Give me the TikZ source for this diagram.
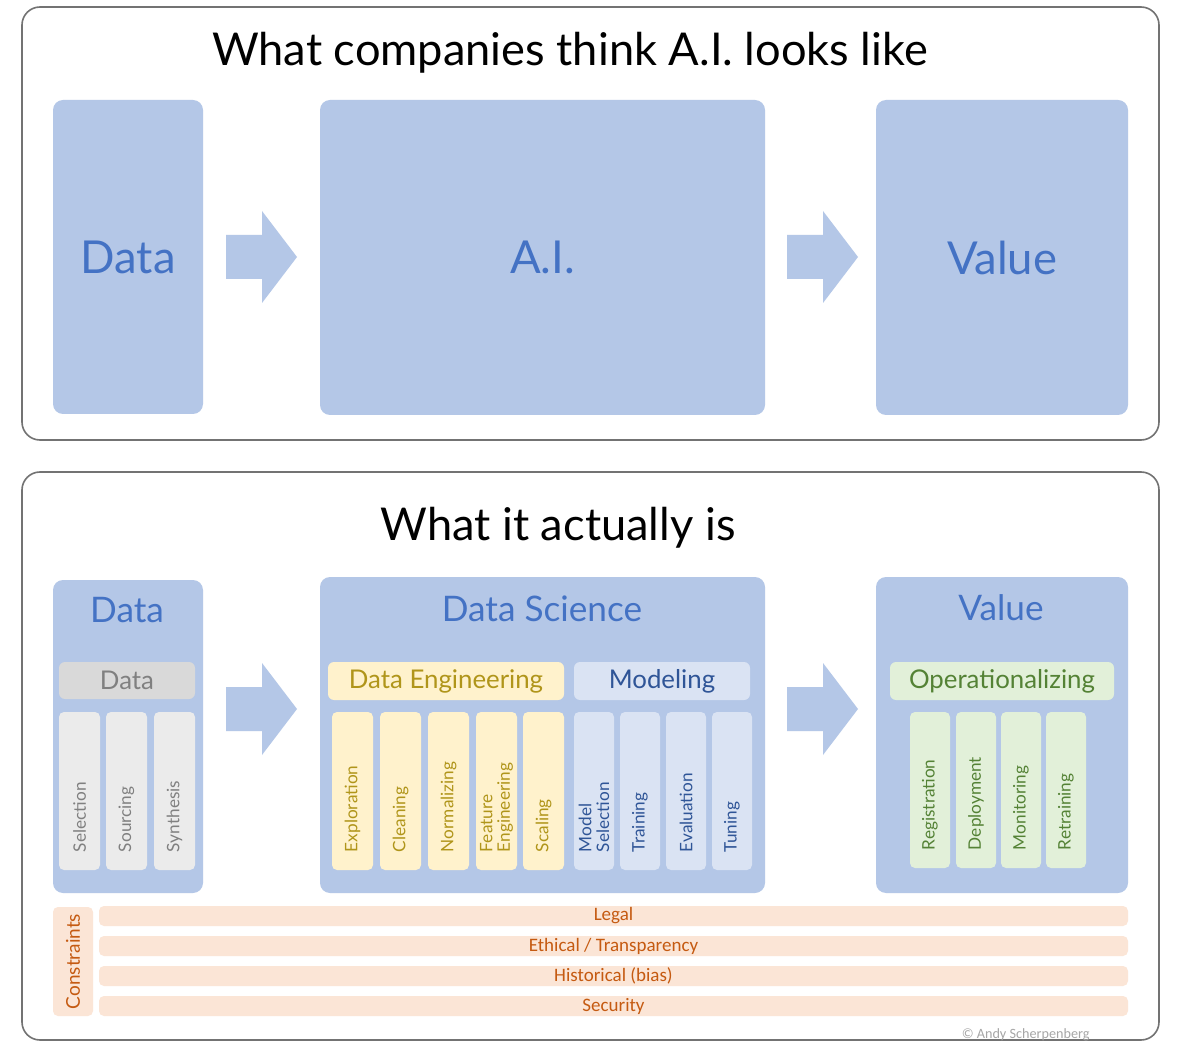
\documentclass[tikz,border=0pt]{standalone}
\usepackage{fontspec}
\setmainfont{Lato}
\newfontfamily\carl{Carlito}
\usetikzlibrary{fit}
\definecolor{boxblue}{HTML}{B4C7E7}
\definecolor{titleblue}{HTML}{4472C4}
\definecolor{hgray}{HTML}{D9D9D9}
\definecolor{cgray}{HTML}{EBEBEB}
\definecolor{tgray}{HTML}{808080}
\definecolor{yel}{HTML}{FFF2CC}
\definecolor{tyel}{HTML}{B0951A}
\definecolor{lblue}{HTML}{DAE3F3}
\definecolor{tdblue}{HTML}{2F5597}
\definecolor{lgreen}{HTML}{E2F0D9}
\definecolor{tgreen}{HTML}{548235}
\definecolor{peach}{HTML}{FBE5D6}
\definecolor{tpeach}{HTML}{C55A11}
\tikzset{
  panel/.style={draw=black!55, line width=0.8pt, rounded corners=9pt, inner sep=0pt},
  bigbox/.style={fill=boxblue, rounded corners=5pt, inner sep=0pt},
  hdr/.style={rounded corners=3pt, inner sep=0pt},
  colbox/.style={rounded corners=2.5pt, inner sep=0pt},
  maintitle/.style={font=\fontsize{22.6}{27}\selectfont, text=black},
  bigtxt/.style={font=\fontsize{22.7}{27}\selectfont, text=titleblue},
  subtitle/.style={font=\fontsize{17.6}{21}\selectfont, text=titleblue},
  hdrtxt/.style={font=\fontsize{12.9}{15}\selectfont},
  coltxt/.style={font=\fontsize{8.6}{8.8}\selectfont, rotate=90, anchor=west, align=left, inner sep=0pt},
  contxt/.style={font=\carl\fontsize{9.5}{11}\selectfont, text=tpeach, inner sep=0pt},
}
\newcommand\blockarrow[2]{\fill[boxblue] (#1,#2-22) -- ++(36,0) -- ++(0,-24) -- (#1+71,#2) -- (#1+36,#2+46) -- ++(0,-24) -- (#1,#2+22) -- cycle;}
\begin{document}
\begin{tikzpicture}[x=0.5pt,y=-0.5pt]
\useasboundingbox[fill=white] (0,0) rectangle (1179,1043);
% ---------- top panel ----------
\node[panel, fit={(22,7)(1159,440)}] (top) {};
\node[maintitle] (t1) at (570,53) {What companies think A.I. looks like};
\node[bigbox, fit={(53,100)(203,414)}] (tdata) {};
\node[bigtxt] (tdatat) at (tdata.center) {Data};
\node[bigbox, fit={(320,100)(765,415)}] (tai) {};
\node[bigtxt] (taitxt) at (tai.center) {A.I.};
\node[bigbox, fit={(876,100)(1128,415)}] (tval) {};
\node[bigtxt] (tvalt) at (tval.center) {Value};
\blockarrow{226}{257}
\blockarrow{787}{257}
% ---------- bottom panel ----------
\node[panel, fit={(22,472)(1159,1040)}] (bot) {};
\node[maintitle] (t2) at (558,528) {What it actually is};
% Data
\node[bigbox, fit={(53,580)(203,893)}] (bdata) {};
\node[subtitle] (bdatat) at (127,610) {Data};
\node[hdr, fill=hgray, fit={(59,662)(195,699)}] (hdata) {};
\node[hdrtxt, text=tgray] at (hdata.center) {Data};
\foreach \x/\t [count=\i] in {59/Selection,106/Sourcing,154/Synthesis}{
  \node[colbox, fill=cgray, fit={(\x,712)(\x+41,870)}] (dc\i) {};
  \path (dc\i.south) ++(0,-18) node[coltxt, text=tgray] {\t};
}
\blockarrow{226}{709}
% Data Science
\node[bigbox, fit={(320,577)(765,893)}] (bds) {};
\node[subtitle] (bdst) at (542,609) {Data Science};
\node[hdr, fill=yel, fit={(328,662)(564,700)}] (hde) {};
\node[hdrtxt, text=tyel] at (hde.center) {Data Engineering};
\node[hdr, fill=lblue, fit={(574,662)(750,700)}] (hmod) {};
\node[hdrtxt, text=tdblue] at (hmod.center) {Modeling};
\foreach \x/\t [count=\i] in {332/Exploration,380/Cleaning,428/Normalizing,476/{Feature\\Engineering},523/Scaling}{
  \node[colbox, fill=yel, fit={(\x,712)(\x+41,870)}] (de\i) {};
  \path (de\i.south) ++(0,-18) node[coltxt, text=tyel] {\t};
}
\foreach \x/\t [count=\i] in {574/{Model\\Selection},620/Training,666/Evaluation,712/Tuning}{
  \node[colbox, fill=lblue, fit={(\x,712)(\x+40,870)}] (mo\i) {};
  \path (mo\i.south) ++(0,-18) node[coltxt, text=tdblue] {\t};
}
\blockarrow{787}{709}
% Value
\node[bigbox, fit={(876,577)(1128,893)}] (bval) {};
\node[subtitle] (bvalt) at (1001,608) {Value};
\node[hdr, fill=lgreen, fit={(890,662)(1114,700)}] (hop) {};
\node[hdrtxt, text=tgreen] at (hop.center) {Operationalizing};
\foreach \x/\t [count=\i] in {910/Registration,956/Deployment,1001/Monitoring,1046/Retraining}{
  \node[colbox, fill=lgreen, fit={(\x,712)(\x+40,868)}] (op\i) {};
  \path (op\i.south) ++(0,-18) node[coltxt, text=tgreen] {\t};
}
% Constraints
\node[colbox, fill=peach, fit={(53,907)(93,1016)}] (cons) {};
\node[font=\fontsize{9.5}{11}\selectfont, text=tpeach, rotate=90] at (cons.center) {Constraints};
\foreach \y/\t [count=\i] in {906/{Legal},936/{Ethical / Transparency},966/{Historical (bias)},996/{Security}}{
  \node[colbox, fill=peach, fit={(99,\y)(1128,\y+20)}] (row\i) {};
  \node[contxt] at (row\i.center) {\t};
}
\node[font=\carl\fontsize{7.1}{9}\selectfont, text=black!35, anchor=east, inner sep=0pt] (credit) at (1090,1035) {© Andy Scherpenberg};
\end{tikzpicture}
\end{document}
